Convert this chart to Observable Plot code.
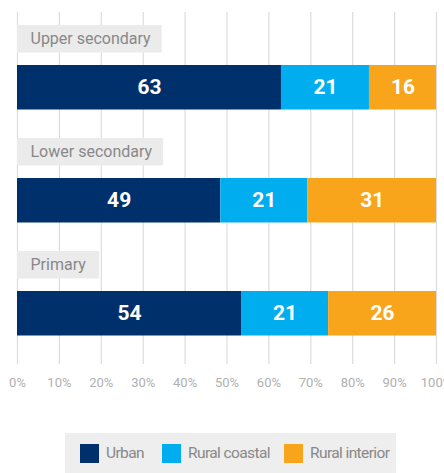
<!DOCTYPE html>
<html>
<head>
<meta charset="utf-8">
<script src="https://cdn.jsdelivr.net/npm/d3@7"></script>
<script src="https://cdn.jsdelivr.net/npm/@observablehq/plot@0.6"></script>
<style>
  body { margin: 0; background: #fff; }
  #legend { margin: 33px 0 0 65px; width: 331px; height: 40px; background: #eeeeee;
    display: flex; align-items: center; box-sizing: border-box; padding-left: 15px;
    font-family: Roboto, sans-serif; font-size: 15.5px; letter-spacing: -0.6px; color: #888; white-space: nowrap; }
  .item { display: flex; align-items: center; }
  .item:nth-child(1) { width: 82px; }
  .item:nth-child(2) { width: 122px; }
  .sw { width: 19px; height: 19px; margin-right: 7px; flex: none; }
</style>
</head>
<body>
<div id="chart"></div>
<div id="legend"></div>
<script>
const levels = ["Upper secondary", "Lower secondary", "Primary"];
const seriesNames = ["Urban", "Rural coastal", "Rural interior"];
const urban = [63, 49, 54];
const ruralCoastal = [21, 21, 21];
const ruralInterior = [16, 31, 26];
const colors = ["#00306b", "#00aeef", "#f9a51b"];
const xTicks = [0, 10, 20, 30, 40, 50, 60, 70, 80, 90, 100];

const seriesValues = [urban, ruralCoastal, ruralInterior];
const data = levels.flatMap((level, i) =>
  seriesNames.map((s, j) => ({level, series: s, value: seriesValues[j][i]})));

const FONT = "Roboto, sans-serif";
const W = 444, ML = 17, MR = 8;
const plotW = W - ML - MR;
const ctx = document.createElement("canvas").getContext("2d");
ctx.font = "16px " + FONT;
if ("letterSpacing" in ctx) ctx.letterSpacing = "-0.3px";
const labelData = levels.map(l => ({level: l, w: (ctx.measureText(l).width + 29) / plotW}));

const ticks = xTicks.map(t => t / 100);

const chart = Plot.plot({
  width: W, height: 400,
  marginLeft: ML, marginRight: MR, marginTop: 12, marginBottom: 36,
  style: {fontFamily: FONT, background: "white"},
  x: {domain: [0, 1]},
  y: {domain: levels, range: [12, 352.5], padding: 0, axis: null},
  color: {domain: seriesNames, range: colors},
  marks: [
    Plot.gridX({ticks, stroke: "#dcdcdc", strokeOpacity: 1, strokeWidth: 1.2}),
    Plot.axisX({ticks, tickSize: 0, tickPadding: 13, fontSize: 13, fill: "#b0b0b0",
      letterSpacing: "-0.4px",
      tickFormat: d => Math.round(d * 100) + "%"}),
    Plot.barX(labelData, {x1: d => 0, x2: "w", y: "level", fill: "#ebebeb", insetTop: 12, insetBottom: 73.5}),
    Plot.text(levels, {x: d => 0, y: d => d, text: d => d, textAnchor: "start", dx: 13, dy: -30.75,
      fill: "#888", fontSize: 16, letterSpacing: "-0.3px"}),
    Plot.barX(data, {x: "value", y: "level", fill: "series", offset: "normalize", insetTop: 52, insetBottom: 16.5}),
    Plot.text(data, Plot.stackX({x: "value", y: "level", z: "series", offset: "normalize",
      text: "value", fill: "white", fontWeight: "bold", fontSize: 21, dy: 17.75}))
  ]
});
document.getElementById("chart").appendChild(chart);

const legend = document.getElementById("legend");
seriesNames.forEach((s, i) => {
  const item = document.createElement("div");
  item.className = "item";
  const sw = document.createElement("div");
  sw.className = "sw";
  sw.style.background = colors[i];
  const t = document.createElement("span");
  t.textContent = s;
  item.appendChild(sw); item.appendChild(t);
  legend.appendChild(item);
});
</script>
</body>
</html>
